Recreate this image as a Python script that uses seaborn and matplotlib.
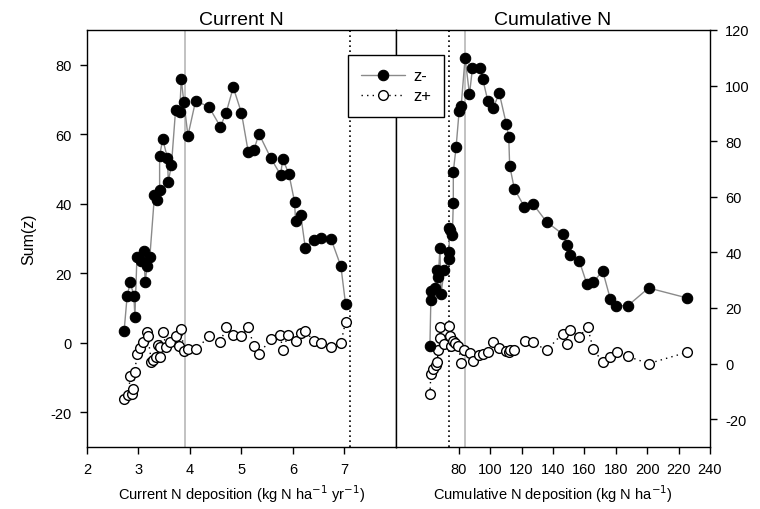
import numpy as np
import pandas as pd
import matplotlib
matplotlib.use("Agg")
import matplotlib.pyplot as plt
from matplotlib.lines import Line2D
import seaborn as sns

# ---- Current N deposition panel ----
cur_neg_x = [2.72, 2.78, 2.84, 2.91, 2.93, 2.97, 3.04, 3.10, 3.13, 3.17, 3.22,
             3.31, 3.35, 3.41, 3.41, 3.47, 3.56, 3.58, 3.64, 3.72, 3.80, 3.83,
             3.88, 3.96, 4.11, 4.37, 4.59, 4.70, 4.84, 5.00, 5.13, 5.24, 5.34,
             5.57, 5.76, 5.80, 5.92, 6.03, 6.05, 6.15, 6.24, 6.40, 6.55, 6.74,
             6.93, 7.02]
cur_neg_y = [3.3, 13.5, 17.4, 13.5, 7.4, 24.8, 23.4, 26.3, 17.6, 22.2, 24.7,
             42.4, 41.0, 44.0, 53.8, 58.6, 53.3, 46.4, 51.2, 67.0, 66.3, 75.8,
             69.4, 59.6, 69.7, 67.8, 62.2, 66.1, 73.5, 66.1, 55.0, 55.5, 60.1,
             53.1, 48.3, 52.9, 48.6, 40.6, 34.9, 36.8, 27.2, 29.6, 30.1, 29.8,
             22.0, 11.2]

cur_pos_x = [2.72, 2.80, 2.84, 2.87, 2.89, 2.93, 2.97, 3.02, 3.09, 3.17, 3.18,
             3.25, 3.29, 3.34, 3.38, 3.41, 3.41, 3.47, 3.54, 3.61, 3.72, 3.78,
             3.83, 3.88, 3.96, 4.12, 4.37, 4.59, 4.70, 4.84, 5.00, 5.13, 5.24,
             5.34, 5.57, 5.75, 5.80, 5.91, 6.05, 6.15, 6.24, 6.40, 6.55, 6.74,
             6.93, 7.02]
cur_pos_y = [-16.1, -15.0, -9.7, -14.8, -13.3, -8.4, -3.2, -1.5, 0.1, 3.1, 2.0,
             -5.4, -5.1, -4.1, -0.6, -4.1, -1.1, 3.0, -1.1, 0.1, 2.0, -0.9,
             4.0, -2.5, -1.8, -1.8, 1.8, 0.2, 4.4, 2.3, 1.8, 4.5, -0.9,
             -3.3, 1.2, 2.3, -2.0, 2.3, 0.4, 2.8, 3.5, 0.4, -0.1, -1.1,
             -0.1, 6.0]

# ---- Cumulative N deposition panel ----
cum_neg_x = [61.6, 62.2, 62.6, 64.8, 65.8, 66.9, 68.0, 68.6, 70.8, 73.8, 73.8,
             74.0, 74.4, 75.9, 76.5, 76.5, 78.3, 80.2, 81.5, 84.0, 86.8, 88.7,
             93.2, 95.3, 98.5, 101.7, 105.8, 110.3, 111.8, 112.4, 115.4, 121.7,
             127.4, 135.9, 146.1, 148.7, 150.9, 156.7, 161.6, 165.6, 171.6,
             176.5, 180.2, 187.6, 200.9, 225.5]
cum_neg_y = [6.2, 23.0, 26.0, 27.2, 33.8, 31.1, 41.5, 25.0, 33.8, 37.6, 40.3,
             48.7, 48.1, 46.3, 57.8, 69.0, 78.0, 90.8, 92.6, 110.0, 96.9, 106.2,
             106.2, 102.2, 94.5, 91.8, 97.2, 86.1, 81.6, 71.2, 62.8, 56.5,
             57.3, 51.0, 46.6, 42.7, 39.1, 37.0, 28.6, 29.2, 33.4,
             23.3, 20.8, 20.8, 27.2, 23.6]

cum_pos_x = [61.6, 62.2, 63.7, 65.2, 66.3, 66.9, 68.0, 68.0, 70.6, 73.8, 74.4,
             74.8, 76.5, 77.6, 79.7, 81.5, 83.6, 87.2, 88.9, 92.6, 95.3, 98.3,
             101.7, 105.8, 110.3, 111.8, 112.4, 115.4, 121.9, 127.4, 135.9,
             146.1, 148.7, 151.1, 156.7, 162.0, 165.6, 171.6, 176.5, 180.5,
             187.6, 200.9, 225.5]
cum_pos_y = [-11.1, -3.6, -1.9, -0.6, 0.6, 5.0, 13.0, 9.2, 7.2, 13.4, 9.8,
             6.2, 8.0, 7.4, 6.5, 0.3, 5.0, 3.8, 1.1, 3.0, 3.6, 4.2,
             7.6, 5.6, 4.4, 4.2, 4.8, 4.8, 8.3, 7.6, 4.8,
             10.8, 7.1, 12.2, 9.6, 13.2, 5.3, 0.5, 2.3, 4.1,
             2.6, 0.0, 4.1]

cur_ticks = [2, 3, 4, 5, 6, 7]
cum_ticks = [80, 100, 120, 140, 160, 180, 200, 220, 240]
left_yticks = [-20, 0, 20, 40, 60, 80]
right_yticks = [-20, 0, 20, 40, 60, 80, 100, 120]

cur_change_points = {"solid": 3.9, "dotted": 7.1}
cum_change_points = {"solid": 84.0, "dotted": 73.5}

sns.set_theme(style="ticks")
plt.rcParams["font.family"] = ["Liberation Sans", "DejaVu Sans"]
plt.rcParams["axes.linewidth"] = 1.0
plt.rcParams["axes.unicode_minus"] = False
plt.rcParams["text.color"] = "black"
plt.rcParams["axes.labelcolor"] = "black"

fig = plt.figure(figsize=(7.6, 5.1), dpi=100)
ax1 = fig.add_axes([87 / 760, 62 / 510, 309 / 760, 417 / 510])
ax2 = fig.add_axes([396 / 760, 62 / 510, 314 / 760, 417 / 510])

neg_style = dict(color="#8a8a8a", linewidth=1.0, marker="o", markersize=7.5,
                 markerfacecolor="black", markeredgecolor="black",
                 markeredgewidth=0.8)
pos_style = dict(color="black", linewidth=1.0, linestyle=(0, (1, 3)),
                 marker="o", markersize=7.0, markerfacecolor="white",
                 markeredgecolor="black", markeredgewidth=1.0)


def draw_panel(ax, nx, ny, px, py, refs):
    ax.axvline(refs["solid"], color="#b8b8b8", linewidth=1.2, zorder=1)
    ax.axvline(refs["dotted"], color="black", linewidth=1.2,
               linestyle=(0, (1, 2)), zorder=1)
    neg = pd.DataFrame({"x": nx, "y": ny})
    pos = pd.DataFrame({"x": px, "y": py})
    sns.lineplot(data=pos, x="x", y="y", ax=ax, estimator=None, sort=False,
                 zorder=3, **pos_style)
    sns.lineplot(data=neg, x="x", y="y", ax=ax, estimator=None, sort=False,
                 zorder=4, **neg_style)


draw_panel(ax1, cur_neg_x, cur_neg_y, cur_pos_x, cur_pos_y, cur_change_points)
draw_panel(ax2, cum_neg_x, cum_neg_y, cum_pos_x, cum_pos_y, cum_change_points)

# left panel axes
ax1.set_xlim(2, 8)
ax1.set_ylim(-30, 90)
ax1.set_xticks(cur_ticks)
ax1.set_yticks(left_yticks)
ax1.set_title("Current N", fontsize=14, pad=4)
ax1.set_xlabel("Current N deposition (kg N ha$^{-1}$ yr$^{-1}$)", fontsize=10.5)
ax1.set_ylabel("Sum(z)", fontsize=11.5, labelpad=10)

# right panel axes
ax2.set_xlim(40, 240)
ax2.set_ylim(-30, 120)
ax2.set_xticks(cum_ticks)
ax2.set_yticks(right_yticks)
ax2.yaxis.tick_right()
ax2.yaxis.set_label_position("right")
ax2.set_title("Cumulative N", fontsize=14, pad=4)
ax2.set_xlabel("Cumulative N deposition (kg N ha$^{-1}$)", fontsize=10.5)
ax2.set_ylabel("")

for ax in (ax1, ax2):
    for sp in ax.spines.values():
        sp.set_visible(True)
        sp.set_color("black")
        sp.set_linewidth(1.0)
    ax.tick_params(axis="both", direction="out", length=5, width=1,
                   labelsize=10.5, colors="black", pad=6)
    ax.set_facecolor("white")

handles = [
    Line2D([], [], **neg_style),
    Line2D([], [], **pos_style),
]
fig.legend(handles, ["z-", "z+"], loc="upper left",
           bbox_to_anchor=(348 / 760, 1 - 56 / 510), frameon=True,
           fancybox=False, edgecolor="black", framealpha=1, fontsize=12,
           handlelength=2.6, borderpad=0.8, labelspacing=0.3,
           handletextpad=0.5, borderaxespad=0)
fig.legends[0].get_frame().set_linewidth(1.0)

fig.savefig("out.png", dpi=100, facecolor="white")
